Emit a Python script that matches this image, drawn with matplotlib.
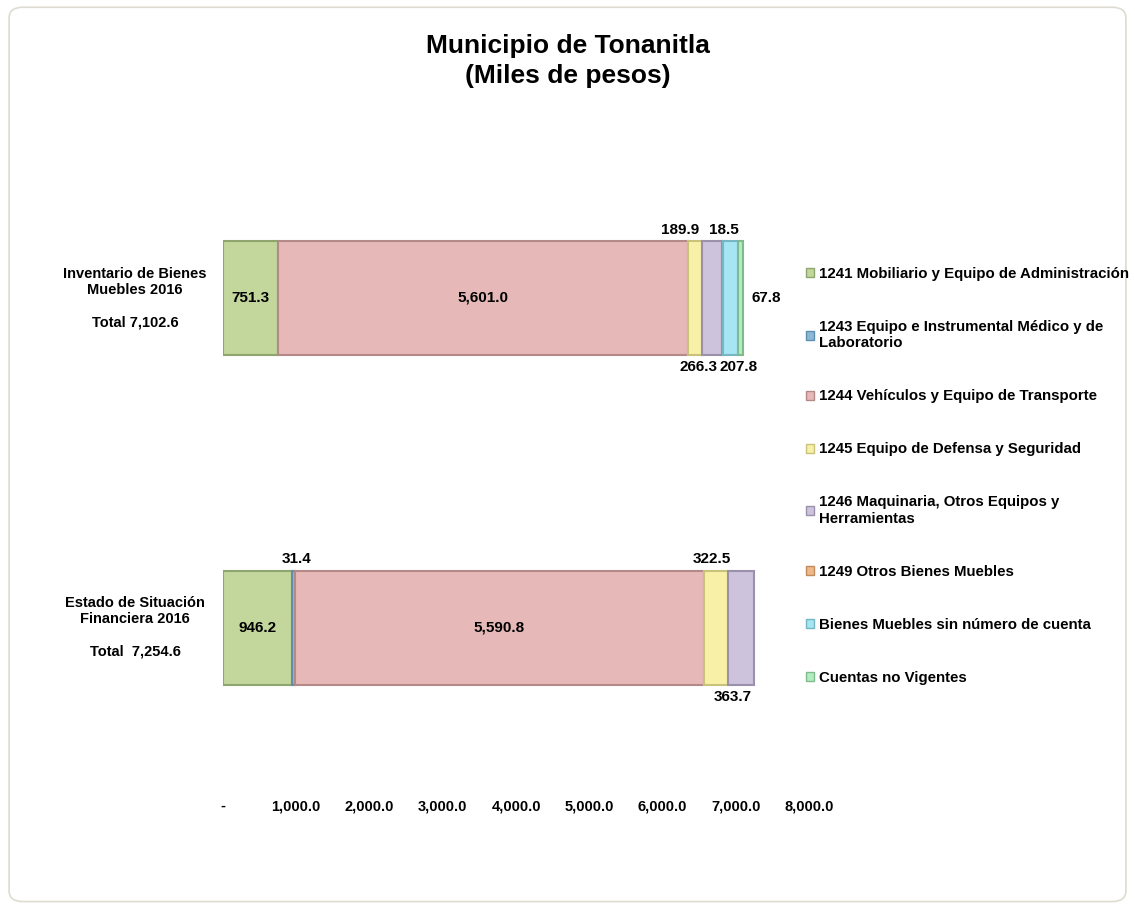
import matplotlib.pyplot as plt
from matplotlib.patches import FancyBboxPatch, Patch
from matplotlib.ticker import FuncFormatter

plt.rcParams['font.family'] = ['Liberation Sans', 'DejaVu Sans']
plt.rcParams['font.weight'] = 'bold'

# data
rows = ['Estado de Situación\nFinanciera 2016\n\nTotal  7,254.6',
        'Inventario de Bienes\nMuebles 2016\n\nTotal 7,102.6']
series = ['1241 Mobiliario y Equipo de Administración',
          '1243 Equipo e Instrumental Médico y de\nLaboratorio',
          '1244 Vehículos y Equipo de Transporte',
          '1245 Equipo de Defensa y Seguridad',
          '1246 Maquinaria, Otros Equipos y\nHerramientas',
          '1249 Otros Bienes Muebles',
          'Bienes Muebles sin número de cuenta',
          'Cuentas no Vigentes']
estado = [946.2, 31.4, 5590.8, 322.5, 363.7, 0, 0, 0]
inventario = [751.3, 0, 5601.0, 189.9, 266.3, 18.5, 207.8, 67.8]
xticks = [0, 1000, 2000, 3000, 4000, 5000, 6000, 7000, 8000]

colors = ['#c3d69b', '#8db8d6', '#e6b9b8', '#f7f0a6', '#cdc3dc',
          '#f0b98a', '#a6e6f2', '#b2edc2']
edges = ['#8fa570', '#5f8fb0', '#b48a89', '#c9c27a', '#9b91ab',
         '#c08a5c', '#74b6c4', '#80bb90']

# where each value label goes (estado, inventario) and sideways nudge in points
place = [['in', 'above', 'in', 'above', 'below', None, None, None],
         ['in', None, 'in', 'above', 'below', 'above', 'below', 'right']]
nudge = [[0, 2, 0, -3, -6, 0, 0, 0],
         [0, 0, 0, -11, -10, 1, 6, 0]]

fig = plt.figure(figsize=(11.35, 9.07), dpi=100)
fig.patches.append(FancyBboxPatch((0.008, 0.006), 0.984, 0.986,
                                  boxstyle='round,pad=0,rounding_size=0.012',
                                  transform=fig.transFigure, fc='white',
                                  ec='#dedbd0', lw=1.2, zorder=-10))

ax = fig.add_axes([223 / 1135, 1 - 795 / 907, (809 - 223) / 1135, (795 - 200) / 907])
ax.set_xlim(0, 8000)
ax.set_ylim(-0.508, 1.297)
h = 0.346

data = [estado, inventario]
for r, vals in enumerate(data):
    left = 0
    for i, v in enumerate(vals):
        if v > 0:
            ax.barh(r, v, left=left, height=h, color=colors[i],
                    edgecolor=edges[i], linewidth=1.5)
        p = place[r][i]
        lab = f'{v:,.1f}'
        cx = left + v / 2
        dx = nudge[r][i]
        if p == 'in':
            ax.text(cx, r, lab, ha='center', va='center', fontsize=11)
        elif p == 'above':
            ax.annotate(lab, (cx, r + h / 2), xytext=(dx, 3), textcoords='offset points',
                        ha='center', va='bottom', fontsize=11)
        elif p == 'below':
            ax.annotate(lab, (cx, r - h / 2), xytext=(dx, -4), textcoords='offset points',
                        ha='center', va='top', fontsize=11)
        elif p == 'right':
            ax.annotate(lab, (left + v, r), xytext=(6, 0), textcoords='offset points',
                        ha='left', va='center', fontsize=11)
        left += v

for r, name in enumerate(rows):
    ax.text(-1200, r, name, ha='center', va='center', fontsize=10.5, linespacing=1.2)

ax.set_xticks(xticks)
ax.xaxis.set_major_formatter(FuncFormatter(lambda x, p: '-' if x == 0 else f'{x:,.1f}'))
ax.tick_params(axis='x', length=0, labelsize=10.5, pad=3)
ax.set_yticks([])
for s in ax.spines.values():
    s.set_visible(False)
ax.patch.set_alpha(0)

fig.text(0.5, 0.962, 'Municipio de Tonanitla\n(Miles de pesos)', ha='center', va='top',
         fontsize=19, fontweight='bold', linespacing=1.3)

handles = [Patch(facecolor=c, edgecolor=e) for c, e in zip(colors, edges)]
fig.legend(handles, series, loc='upper left', bbox_to_anchor=(0.705, 0.712),
           frameon=False, fontsize=10.8, labelspacing=2.6, handlelength=0.55,
           handleheight=0.55, handletextpad=0.3, borderaxespad=0)

fig.savefig('out.png', dpi=100)
